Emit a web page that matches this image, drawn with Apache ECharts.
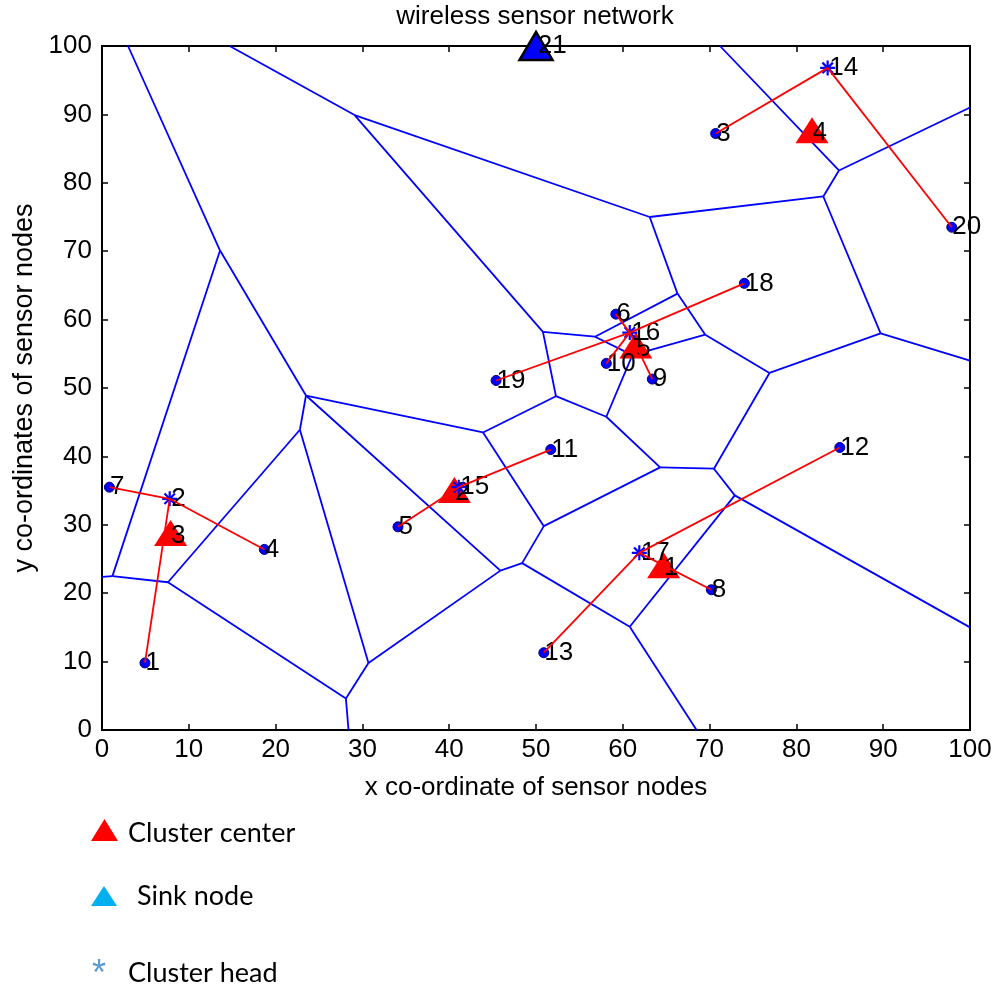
<!DOCTYPE html>
<html><head><meta charset="utf-8">
<script src="https://cdn.jsdelivr.net/npm/echarts@6/dist/echarts.min.js"></script>
<style>html,body{margin:0;padding:0;background:#fff}#c{width:995px;height:987px}</style>
</head><body><div id="c"></div>
<script>
// ---- data ----
const nodeIds = [1,2,3,4,5,6,7,8,9,10,11,12,13,14,15,16,17,18,19,20,21];
const nodeX = [4.95,7.8,70.7,18.7,34.1,59.2,0.85,70.2,63.4,58.1,51.7,85.0,50.9,83.6,41.1,60.8,61.9,74.0,45.4,97.9,50.0];
const nodeY = [9.8,33.8,87.2,26.4,29.7,60.8,35.5,20.5,51.3,53.6,41.0,41.3,11.3,96.8,35.5,58.1,25.9,65.3,51.1,73.5,100.0];
const clusterHeads = [2,14,15,16,17];
const sinkId = 21;
const centerIds = [1,2,3,4,5];
const centerX = [64.7,40.6,7.9,81.8,61.5];
const centerY = [24.1,35.1,28.8,87.7,56.2];
const linkFrom = [2,2,2,15,15,16,16,16,16,16,14,14,17,17,17];
const linkTo   = [7,4,1,5,11,19,18,6,10,9,3,20,13,12,8];
const voronoiEdges = [
 [3.0,100,13.6,70.1],[14.7,100,29.1,89.9],[29.1,89.9,63.1,75.0],[29.1,89.9,50.8,58.2],
 [71.2,100,84.9,81.8],[84.9,81.8,100,91.0],[84.9,81.8,83.1,78.0],[83.1,78.0,63.1,75.0],
 [83.1,78.0,89.7,58.0],[89.7,58.0,100,54.0],[89.7,58.0,76.9,52.2],[63.1,75.0,66.3,63.8],
 [66.3,63.8,69.5,57.8],[69.5,57.8,76.9,52.2],[66.3,63.8,56.8,57.5],[56.8,57.5,50.8,58.2],
 [56.8,57.5,61.1,54.8],[61.1,54.8,69.5,57.8],[61.1,54.8,58.1,45.8],[50.8,58.2,52.3,48.8],
 [52.3,48.8,58.1,45.8],[52.3,48.8,43.9,43.5],[58.1,45.8,64.3,38.4],[64.3,38.4,70.5,38.2],
 [70.5,38.2,76.9,52.2],[70.5,38.2,72.9,34.3],[72.9,34.3,100,15.0],[72.9,34.3,60.8,15.1],
 [60.8,15.1,68.5,0],[60.8,15.1,48.4,24.4],[64.3,38.4,50.9,29.8],[50.9,29.8,43.9,43.5],
 [50.9,29.8,48.4,24.4],[48.4,24.4,45.9,23.3],[13.6,70.1,23.5,48.9],[13.6,70.1,1.2,22.5],
 [1.2,22.5,0,22.4],[1.2,22.5,7.6,21.6],[7.6,21.6,22.8,43.9],[22.8,43.9,23.5,48.9],
 [23.5,48.9,43.9,43.5],[23.5,48.9,45.9,23.3],[45.9,23.3,30.7,9.8],[22.8,43.9,30.7,9.8],
 [30.7,9.8,28.1,4.6],[28.1,4.6,28.4,0],[7.6,21.6,28.1,4.6]
];
const axisMin = 0, axisMax = 100, axisStep = 10;
const titleText = 'wireless sensor network';
const xName = 'x co-ordinate of sensor nodes';
const yName = 'y co-ordinates of sensor nodes';
const legendItems = ['Cluster center','Sink node','Cluster head'];

// ---- build ----
const AR = "'Liberation Sans', Arial, sans-serif";
const pos = id => [nodeX[id-1], nodeY[id-1]];
const plain = nodeIds.filter(id => clusterHeads.indexOf(id) < 0 && id !== sinkId).map(id => [nodeX[id-1], nodeY[id-1], id]);
const heads = clusterHeads.map(id => [nodeX[id-1], nodeY[id-1], id]);
const sink = [[nodeX[sinkId-1], nodeY[sinkId-1], sinkId]];
const centers = centerIds.map((id,i) => [centerX[i], centerY[i], id]);
const links = linkFrom.map((f,i) => ({coords:[pos(f), pos(linkTo[i])]}));
const vor = voronoiEdges.map(e => ({coords:[[e[0],e[1]],[e[2],e[3]]]}));
const asterisk = 'path://M0,-10L0,10M-10,0L10,0M-7,-7L7,7M-7,7L7,-7';

const lbl = (dist) => ({show:true, position:'right', distance:dist, formatter:p=>String(p.value[2]),
  color:'#000', fontSize:26, fontFamily:AR});

function axisBase(extra){
  return Object.assign({type:'value', min:axisMin, max:axisMax, interval:axisStep, gridIndex:0,
    axisLine:{show:true, onZero:false, lineStyle:{color:'#000', width:2}},
    axisTick:{show:true, inside:true, length:6, lineStyle:{color:'#000', width:1.5}},
    splitLine:{show:false}}, extra);
}

const chart = echarts.init(document.getElementById('c'), null, {renderer:'canvas'});
chart.setOption({
  backgroundColor:'#fff',
  animation:false,
  grid:{left:102, right:25, top:46, bottom:257, containLabel:false},
  xAxis:[
    axisBase({position:'bottom', axisLabel:{color:'#000', fontSize:26, fontFamily:AR, margin:7},
      name:xName, nameLocation:'middle', nameGap:45, nameTextStyle:{color:'#000', fontSize:26, fontFamily:AR}}),
    axisBase({position:'top', axisLabel:{show:false}})
  ],
  yAxis:[
    axisBase({position:'left', axisLabel:{color:'#000', fontSize:26, fontFamily:AR, margin:10},
      name:yName, nameLocation:'middle', nameGap:62, nameRotate:90, nameTextStyle:{color:'#000', fontSize:27, fontFamily:AR}}),
    axisBase({position:'right', axisLabel:{show:false}})
  ],
  graphic:[
    {type:'text', x:535, y:17, style:{text:titleText, fill:'#000', font:'26px '+AR, textAlign:'center', textVerticalAlign:'middle'}},
    {type:'polygon', shape:{points:[[104.5,819],[91,841],[118,841]]}, style:{fill:'#ff0000'}},
    {type:'text', left:128, top:820, style:{text:legendItems[0], fill:'#000', font:'27px Lato, sans-serif'}},
    {type:'polygon', shape:{points:[[104,886],[91,906],[117,906]]}, style:{fill:'#00b0f0'}},
    {type:'text', left:137, top:883, style:{text:legendItems[1], fill:'#000', font:'27px Lato, sans-serif'}},
    {type:'text', left:92, top:957, style:{text:'*', fill:'#5b9bd5', font:'36px '+AR}},
    {type:'text', left:128, top:960, style:{text:legendItems[2], fill:'#000', font:'27px Lato, sans-serif'}}
  ],
  series:[
    {type:'lines', coordinateSystem:'cartesian2d', xAxisIndex:0, yAxisIndex:0, polyline:false, silent:true, z:1,
      lineStyle:{color:'#0000ff', width:1.8, opacity:1}, data:vor},
    {type:'scatter', xAxisIndex:0, yAxisIndex:0, z:2, symbol:'triangle', symbolSize:[33,26], silent:true,
      itemStyle:{color:'#ff0000', opacity:1}, label:Object.assign(lbl(-16),{offset:[0,3]}), data:centers},
    {type:'scatter', xAxisIndex:0, yAxisIndex:0, z:3, symbol:'circle', symbolSize:10, silent:true,
      itemStyle:{color:'#0000ff', borderColor:'#00007a', borderWidth:1, opacity:1}, label:lbl(-5), data:plain},
    {type:'scatter', xAxisIndex:0, yAxisIndex:0, z:4, symbol:asterisk, symbolSize:15, silent:true,
      itemStyle:{color:'#0000ff', borderColor:'#0000ff', borderWidth:2.2, opacity:1}, label:lbl(-7), data:heads},
    {type:'lines', coordinateSystem:'cartesian2d', xAxisIndex:0, yAxisIndex:0, polyline:false, silent:true, z:5,
      lineStyle:{color:'#ff0000', width:1.8, opacity:1}, data:links},
    {type:'scatter', xAxisIndex:0, yAxisIndex:0, z:6, symbol:'triangle', symbolSize:[33,28], silent:true, clip:false,
      itemStyle:{color:'#0000ff', borderColor:'#000', borderWidth:2.5, opacity:1}, label:lbl(-16), data:sink}
  ]
});
</script></body></html>
